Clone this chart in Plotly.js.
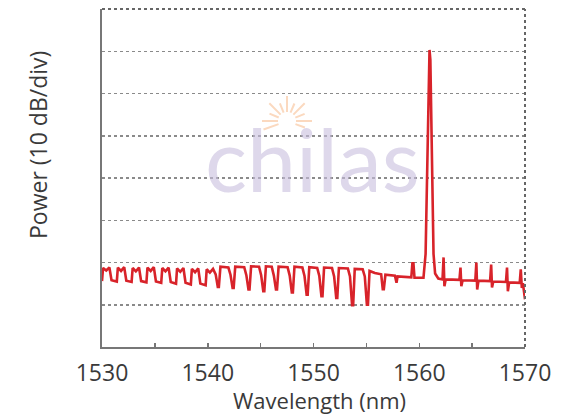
<!DOCTYPE html>
<html>
<head>
<meta charset="utf-8">
<script src="https://cdn.plot.ly/plotly-3.0.1.min.js"></script>
<style>html,body{margin:0;padding:0;background:#fff;}#chart{width:580px;height:415px;}</style>
</head>
<body>
<div id="chart"></div>
<script>
// Wavelength (nm) and power (dB)
var wavelengthNm = [
  1530.0,1530.1,1530.4,1530.7,1530.9,1531.4,1531.5,1531.8,1532.1,1532.3,
  1532.8,1532.9,1533.2,1533.5,1533.7,1534.2,1534.3,1534.6,1534.9,1535.1,
  1535.6,1535.7,1536.0,1536.3,1536.5,1537.0,1537.1,1537.4,1537.7,1537.9,
  1538.4,1538.5,1538.8,1539.1,1539.3,1539.8,1539.9,1540.2,1540.5,
  1540.75,1540.95,1541.05,1541.2,
  1541.95,1542.15,1542.35,1542.45,1542.6,
  1543.45,1543.65,1543.85,1543.95,1544.1,
  1544.85,1545.05,1545.25,1545.35,1545.5,
  1546.05,1546.25,1546.45,1546.55,1546.7,
  1547.55,1547.75,1547.95,1548.05,1548.2,
  1548.95,1549.15,1549.35,1549.45,1549.6,
  1550.35,1550.55,1550.75,1550.85,1551.0,
  1551.75,1551.95,1552.15,1552.25,1552.4,
  1553.25,1553.45,1553.65,1553.75,1553.9,
  1554.65,1554.85,1555.05,1555.15,1555.3,
  1555.8,1556.4,1556.55,1556.65,1556.8,1557.7,1557.85,1557.95,1558.6,
  1559.25,1559.35,1559.45,1559.55,1560.4,
  1560.6,1560.75,1560.9,1560.97,1561.05,1561.2,1561.35,1561.5,1561.8,1562.2,
  1562.3,1562.38,1562.5,1563.8,1563.9,1563.98,1564.1,
  1565.3,1565.4,1565.48,1565.6,1566.7,1566.8,1566.88,1567.0,
  1568.2,1568.3,1568.38,1568.5,1569.5,1569.6,1569.7,1569.8,1570.0
];
var powerDb = [
  -64.4,-61.3,-61.9,-61.2,-64.2,-64.5,-61.2,-62.0,-61.1,-64.3,
  -64.6,-61.3,-62.1,-61.2,-64.4,-64.7,-61.2,-62.0,-61.1,-64.5,
  -64.8,-61.3,-62.1,-61.2,-64.6,-65.0,-61.4,-62.2,-61.3,-64.8,
  -65.2,-61.5,-62.3,-61.4,-65.0,-65.4,-61.6,-62.4,-61.5,
  -62.8,-65.8,-65.8,-61.0,
  -61.2,-62.9,-66.0,-66.0,-61.0,
  -61.1,-63.0,-66.4,-66.4,-60.9,
  -61.0,-63.0,-66.8,-66.8,-60.9,
  -61.0,-63.1,-66.4,-66.4,-61.0,
  -61.1,-63.1,-67.1,-67.1,-61.0,
  -61.2,-63.2,-67.6,-67.6,-61.1,
  -61.3,-63.2,-68.0,-68.0,-61.2,
  -61.3,-63.3,-68.4,-68.4,-61.3,
  -61.4,-63.3,-70.1,-70.1,-61.5,
  -61.6,-63.3,-70.0,-70.0,-62.0,
  -62.5,-62.8,-66.3,-66.3,-62.9,-63.1,-64.8,-63.3,-63.4,
  -63.5,-60.2,-60.2,-63.6,-63.6,
  -58.0,-35.0,-12.0,-9.7,-12.0,-35.0,-58.0,-62.6,-63.8,-64.0,
  -58.8,-65.6,-64.0,-64.1,-61.2,-65.6,-64.2,
  -64.3,-60.0,-66.4,-64.3,-64.4,-60.5,-65.9,-64.5,
  -64.6,-61.2,-66.8,-64.7,-64.8,-61.6,-66.0,-64.9,-68.7
];
var xTickVals = [1530,1535,1540,1545,1550,1555,1560,1565,1570];
var xTickText = ['1530','','1540','','1550','','1560','','1570'];
var yGridVals = [-70,-60,-50,-40,-30,-20,-10];

// pixel helpers for decorations (plot area: x 102..525, y 9..347)
function px(x){return (x-102)/423;}
function py(y){return (347-y)/338;}

var shapes = [
  {type:'line', xref:'paper', yref:'paper', x0:0, x1:1, y0:1, y1:1,
   line:{color:'#666', width:2, dash:'dot'}},
  {type:'line', xref:'paper', yref:'paper', x0:1, x1:1, y0:0, y1:1,
   line:{color:'#666', width:2, dash:'dot'}}
];
// watermark sun rays
var rayAngles = [0,22,45,67,90,112,135,157,180,-20,200];
var cx=287, cy=121;
rayAngles.forEach(function(a,i){
  var r0=9, r1=(i%2===0)?25:19;
  var rad=a*Math.PI/180;
  shapes.push({type:'line', xref:'paper', yref:'paper', layer:'below',
    x0:px(cx+r0*Math.cos(rad)), y0:py(cy-r0*Math.sin(rad)),
    x1:px(cx+r1*Math.cos(rad)), y1:py(cy-r1*Math.sin(rad)),
    line:{color:'#fbd9bf', width:2}});
});

var data = [{
  x: wavelengthNm, y: powerDb, type:'scatter', mode:'lines',
  line:{color:'#d8232a', width:2.6}, hoverinfo:'skip'
}];

var layout = {
  width:580, height:415,
  margin:{l:102, r:55, t:9, b:68, pad:0},
  paper_bgcolor:'#ffffff', plot_bgcolor:'#ffffff',
  showlegend:false,
  xaxis:{range:[1530,1570], tickmode:'array', tickvals:xTickVals, ticktext:xTickText,
    ticks:'inside', ticklen:4, tickwidth:1.5, tickcolor:'#777',
    showgrid:false, zeroline:false, showline:true, linecolor:'#777', linewidth:2,
    tickfont:{family:'Open Sans', size:23, color:'#3a3a3a'}, ticklabelstandoff:4},
  yaxis:{range:[-80,0], tickmode:'array', tickvals:yGridVals, showticklabels:false, ticks:'',
    showgrid:true, gridcolor:'#8a8a8a', griddash:'dot', gridwidth:1.5,
    zeroline:false, showline:true, linecolor:'#777', linewidth:2},
  shapes: shapes,
  annotations:[
    {text:'Wavelength (nm)', xref:'paper', yref:'paper', x:px(319), y:py(400),
     xanchor:'center', yanchor:'middle', showarrow:false,
     font:{family:'Open Sans', size:22, color:'#3a3a3a'}},
    {text:'Power (10 dB/div)', xref:'paper', yref:'paper', x:px(38), y:py(145),
     xanchor:'center', yanchor:'middle', showarrow:false, textangle:-90,
     font:{family:'Open Sans', size:23, color:'#3a3a3a'}},
    {text:'chilas', xref:'paper', yref:'paper', x:px(312), y:py(158),
     xanchor:'center', yanchor:'middle', showarrow:false,
     font:{family:'Lato', size:88, color:'rgba(200,190,222,0.6)'}}
  ]
};

Plotly.newPlot('chart', data, layout, {staticPlot:true, displayModeBar:false});
</script>
</body>
</html>
